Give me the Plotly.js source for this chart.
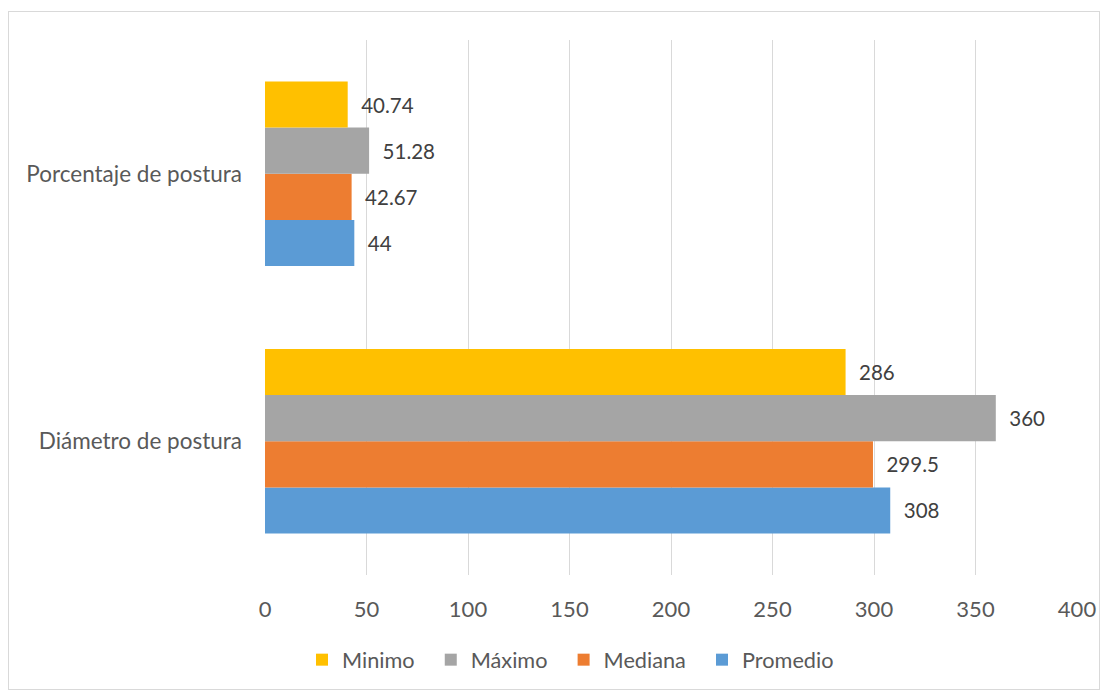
<!DOCTYPE html>
<html>
<head>
<meta charset="utf-8">
<script src="https://cdn.plot.ly/plotly-3.0.1.min.js"></script>
<style>
html,body{margin:0;padding:0;background:#fff;}
#wrap{position:relative;width:1112px;height:693px;}
#chart{width:1112px;height:693px;}
#frame{position:absolute;left:8px;top:11px;width:1092px;height:679px;border:1px solid #d9d9d9;box-sizing:border-box;pointer-events:none;}
</style>
</head>
<body>
<div id="wrap"><div id="chart"></div><div id="frame"></div></div>
<script>
const categories = ["Diámetro de postura", "Porcentaje de postura"];
const seriesNames = ["Promedio", "Mediana", "Máximo", "Minimo"];
const promedio = [308, 44];
const mediana = [299.5, 42.67];
const maximo = [360, 51.28];
const minimo = [286, 40.74];
const xTicks = [0, 50, 100, 150, 200, 250, 300, 350, 400];
const colors = ["#5b9bd5", "#ed7d31", "#a5a5a5", "#ffc000"];

const values = [promedio, mediana, maximo, minimo];
const font = "Lato, Open Sans, sans-serif";
const fs = 22;
const pad = "\u00a0\u00a0";
const traces = values.map((v, i) => ({
  type: "bar",
  orientation: "h",
  name: i === 0 ? seriesNames[i] : seriesNames[i] + pad,
  y: categories,
  x: v,
  marker: {color: colors[i]},
  text: v.map(String),
  texttemplate: "\u00a0\u00a0%{text}",
  textposition: "outside",
  cliponaxis: false,
  textfont: {family: font, size: 20.5, color: "#404040"},
  hoverinfo: "x+name"
}));

const layout = {
  width: 1112,
  height: 693,
  margin: {l: 265, r: 35, t: 40, b: 118, autoexpand: false},
  paper_bgcolor: "#ffffff",
  plot_bgcolor: "#ffffff",
  barmode: "group",
  bargap: 0.31,
  bargroupgap: 0,
  font: {family: font, size: fs, color: "#595959"},
  xaxis: {
    range: [0, 400],
    tickvals: xTicks,
    ticktext: xTicks.map(String),
    showgrid: true,
    gridcolor: "#d9d9d9",
    gridwidth: 1,
    zeroline: false,
    showline: false,
    ticks: "",
    ticklabelstandoff: 19,
    tickfont: {family: font, size: fs, color: "#595959"}
  },
  yaxis: {
    type: "category",
    categoryorder: "array",
    categoryarray: categories,
    range: [-0.5, 1.5],
    showgrid: false,
    zeroline: false,
    showline: false,
    ticks: "",
    ticklabelstandoff: 22,
    tickfont: {family: font, size: 22.5, color: "#595959"}
  },
  showlegend: true,
  legend: {
    orientation: "h",
    traceorder: "reversed",
    x: 0.0456,
    xanchor: "left",
    y: -0.159,
    yanchor: "middle",
    font: {family: font, size: 21.7, color: "#595959"},
    itemwidth: 30
  }
};

Plotly.newPlot("chart", traces, layout, {displayModeBar: false, staticPlot: true});
</script>
</body>
</html>
